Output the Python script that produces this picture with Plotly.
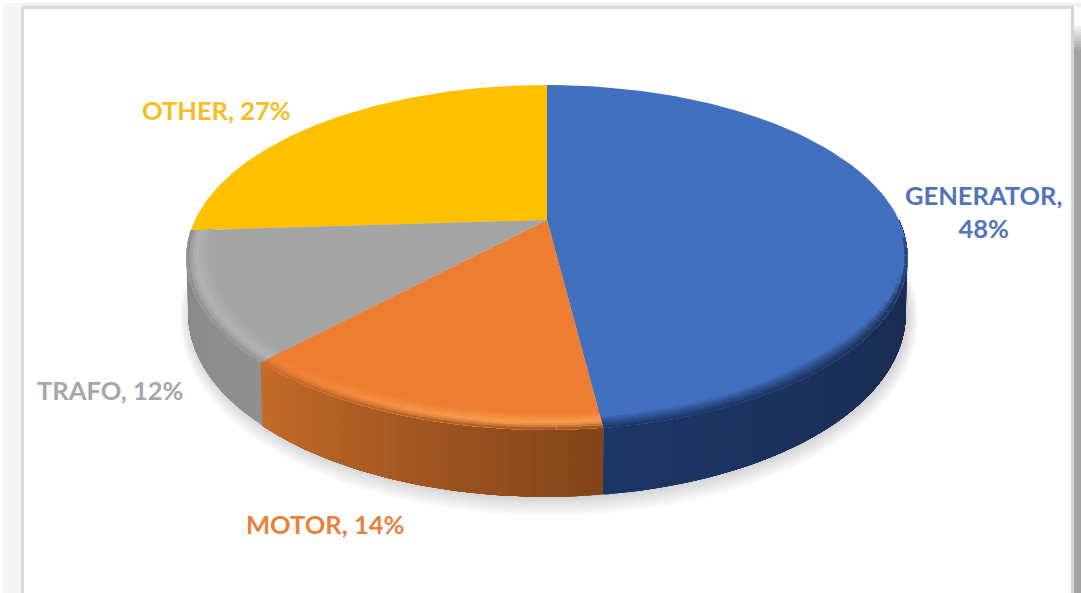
import numpy as np
import plotly.graph_objects as go

# Fault share by machine type, in percent, clockwise from twelve o'clock.
categories = ["GENERATOR", "MOTOR", "TRAFO", "OTHER"]
values = [48, 14, 12, 27]

top_colors = ["#4170BF", "#EC7D31", "#A4A4A4", "#FFC000"]
label_colors = ["#5174B8", "#E8813C", "#A6A6A6", "#F6BE1E"]
wall_start = ["#1C3666", "#C56C29", "#868686", "#B08400"]
wall_end = ["#1A2C50", "#824419", "#909090", "#B08400"]
rim_glow = ["#3A63AC", "#F99A4A", "#B2B2B2", "#FFC000"]

W, H = 1081, 593

# Perspective disc: apex position, vertical foreshortening and width.
CX, CY = 547.0, 220.0
PERSP, YSCALE, XSCALE = -0.217, 164.3, 352.0


def project(theta_deg, r=1.0):
    t = np.radians(theta_deg)
    u, v = r * np.sin(t), -r * np.cos(t)
    d = 1 + PERSP * v
    return CX + XSCALE * u / d, CY + YSCALE * v / d


def project_base(theta_deg):
    x, y = project(theta_deg)
    v = -np.cos(np.radians(theta_deg))
    return CX + (x - CX) * 0.995, y + 53 + 14 * v


def rgb(h):
    return np.array([int(h[i:i + 2], 16) for i in (1, 3, 5)], float)


def mix(a, b, t):
    c = rgb(a) * (1 - t) + rgb(b) * t
    return "#%02X%02X%02X" % tuple(int(round(x)) for x in c)


def poly(xs, ys, fill):
    return go.Scatter(
        x=list(xs), y=list(ys), mode="lines", fill="toself", fillcolor=fill,
        line=dict(width=0), hoverinfo="skip", showlegend=False,
    )


def steps(a0, a1, size):
    e = np.arange(a0, a1, size)
    return np.r_[e, a1]


fig = go.Figure()

# Soft cast shadow under the disc.
ring = np.linspace(0, 360, 181)
for k in np.linspace(1, 0, 14):
    bx, by = project_base(ring)
    sx = CX + (bx - CX) * (1 + 0.030 * k) + 2
    sy = CY + 30 + (by - CY - 30) * (1 + 0.075 * k) + 1
    fig.add_trace(poly(sx, sy, "rgba(120,120,118,0.022)"))

# Slices span 3.6 degrees per percentage point; the labels are rounded and
# total 101, so the closing slice tucks under the first one.
starts = np.concatenate(([0.0], np.cumsum(values[:-1]))) * 3.6
spans = np.array(values) * 3.6
ends = starts + spans


def wall_colour(i, angle, a0, a1):
    if i == 0:
        return mix(wall_start[0], wall_end[0], np.clip((a1 - angle) / 60.0, 0, 1))
    return mix(wall_start[i], wall_end[i], (a1 - angle) / (a1 - a0))


# Side wall, shaded along the arc. Each piece runs on to the end of its slice
# and the next one paints over it, which keeps the gradient free of seams.
for i in range(3):
    a0, a1 = max(starts[i], 90.0), min(ends[i], 272.0)
    edges = steps(a0, a1, 1.5) if i else steps(a0, a1, 1.5)[::-1]
    for p in edges[:-1]:
        arc = np.linspace(p, a1 if i else a0, 80)
        x1, y1 = project(arc)
        x2, y2 = project_base(arc[::-1])
        fig.add_trace(poly(np.r_[x1, x2], np.r_[y1, y2], wall_colour(i, p, a0, a1)))

# Flat top faces; the closing slice goes first so the first slice covers it.
for i in [3, 0, 1, 2]:
    arc = np.linspace(starts[i], ends[i], 120)
    ax, ay = project(arc)
    fig.add_trace(poly(np.r_[CX, ax], np.r_[CY, ay], top_colors[i]))

# Rounded edge where the top face turns into the wall.
levels = np.linspace(0.935, 1.0, 9)
for i in range(3):
    a0, a1 = max(starts[i], 96.0), ends[i]
    for p in steps(a0, a1, 3.0)[:-1]:
        if i == 0:
            weight = np.clip((p - 96.0) / 40.0, 0.2, 1)
        elif i == 1:
            weight = np.clip((a1 - p) / 35.0, 0.0, 1)
        else:
            weight = 1.0
        wall = wall_colour(i, p, a0, a1)
        for j in range(len(levels) - 1):
            t = (j + 0.5) / (len(levels) - 1)
            if i == 0:
                inner = 1 - weight * 0.7
                colour = mix(top_colors[0], wall, np.clip((t - inner) / (1 - inner + 1e-6), 0, 1) ** 0.9)
            elif t < 0.55:
                colour = mix(top_colors[i], rim_glow[i], (t / 0.55) * weight)
            else:
                colour = mix(mix(top_colors[i], rim_glow[i], weight), wall, ((t - 0.55) / 0.45) ** 1.6)
            arc = np.linspace(p, a1, 60)
            xa, ya = project(arc, levels[j])
            xb, yb = project(arc[::-1], 1.0)
            fig.add_trace(poly(np.r_[xa, xb], np.r_[ya, yb], colour))

# Labels: category and share, in the slice colour.
label_pos = [(983, 211), (325, 524), (110, 390), (216, 110)]
for i, (name, val) in enumerate(zip(categories, values)):
    sep = ",<br>" if i == 0 else ", "
    fig.add_annotation(
        x=label_pos[i][0], y=label_pos[i][1], text=f"{name}{sep}{val}%", showarrow=False,
        font=dict(family="Lato", size=25.5, color=label_colors[i], weight=700),
        xanchor="center", yanchor="middle", align="center",
    )

# White card with its border and the grey surround.
shapes = []


def box(x0, y0, x1, y1, color):
    shapes.append(dict(type="rect", x0=x0, y0=y0, x1=x1, y1=y1, fillcolor=color,
                       line_width=0, layer="below"))


box(3, 3, 22, H, "#F5F5F5")
box(22, 3, 1081, 7, "#F0F0F0")
box(21, 6, 24, H, "#D9D9D9")
box(21, 6, 1072, 9, "#DADADA")
box(1071, 6, 1074, H, "#D4D4D4")
for n, yy in enumerate(np.arange(26, 52, 3)):
    box(1074, yy, 1081, yy + 3, mix("#EDEDED", "#A2A2A2", n / 8))
box(1074, 50, 1081, H, "#A2A2A2")

fig.update_layout(
    width=W, height=H, margin=dict(l=0, r=0, t=0, b=0, pad=0),
    paper_bgcolor="white", plot_bgcolor="rgba(0,0,0,0)", showlegend=False,
    xaxis=dict(range=[0, W], visible=False, fixedrange=True),
    yaxis=dict(range=[H, 0], visible=False, fixedrange=True),
    shapes=shapes,
)
fig.write_html("out.html", config=dict(displayModeBar=False))
